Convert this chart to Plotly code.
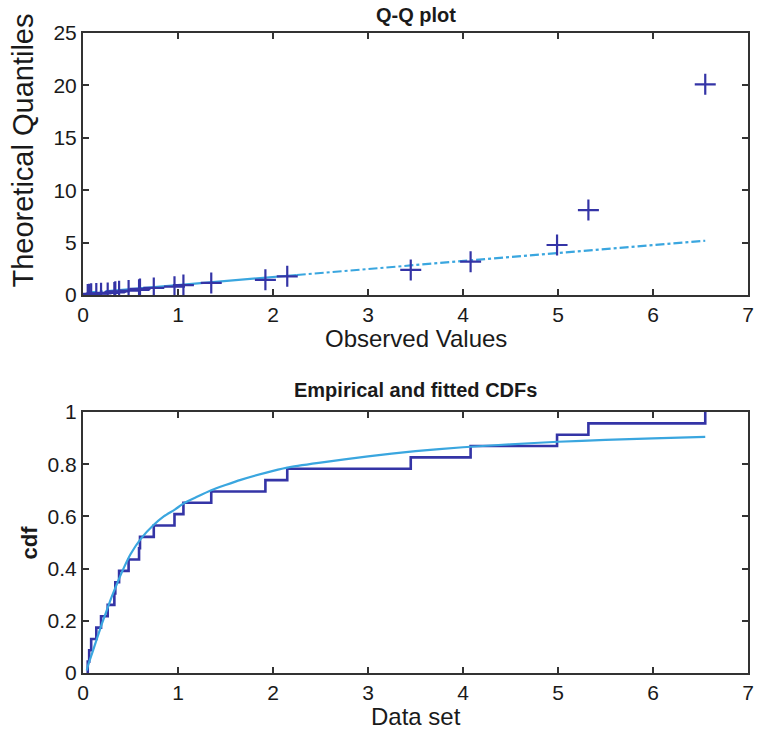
import plotly.graph_objects as go

# ---- data ----
observed = [0.05, 0.065, 0.086, 0.14, 0.19, 0.26, 0.33, 0.34, 0.38, 0.48, 0.59, 0.60,
            0.745, 0.963, 1.057, 1.35, 1.92, 2.15, 3.45, 4.08, 4.99, 5.32, 6.55]
theoretical = [0.04, 0.07, 0.11, 0.14, 0.16, 0.20, 0.24, 0.30, 0.35, 0.42, 0.50, 0.58,
               0.68, 0.80, 0.95, 1.15, 1.45, 1.78, 2.39, 3.18, 4.77, 8.1, 20.1]

# reference line of the Q-Q plot (solid between quartiles, dash-dot extension)
ref_solid_x = [0.26, 2.25]
ref_solid_y = [0.38, 1.91]
ref_ext_lo_x = [0.05, 0.26]
ref_ext_lo_y = [0.22, 0.38]
ref_ext_hi_x = [2.25, 6.55]
ref_ext_hi_y = [1.91, 5.18]

# empirical CDF levels (k/23)
n = len(observed)
ecdf_levels = [k / n for k in range(n + 1)]

# fitted CDF
fit_x = [0.04, 0.05, 0.10, 0.15, 0.20, 0.25, 0.30, 0.35, 0.42, 0.50, 0.61, 0.74, 0.85,
         0.97, 1.06, 1.2, 1.35, 1.5, 1.66, 1.92, 2.15, 2.5, 3.0, 3.5, 4.0, 4.5, 5.0,
         5.5, 6.0, 6.55]
fit_y = [0.01, 0.025, 0.08, 0.135, 0.19, 0.24, 0.29, 0.335, 0.395, 0.455, 0.515, 0.566,
         0.60, 0.627, 0.65, 0.675, 0.70, 0.72, 0.74, 0.767, 0.787, 0.806, 0.83, 0.85,
         0.865, 0.876, 0.886, 0.893, 0.899, 0.905]

x_ticks = [0, 1, 2, 3, 4, 5, 6, 7]
qq_y_ticks = [0, 5, 10, 15, 20, 25]
cdf_y_ticks = [0, 0.2, 0.4, 0.6, 0.8, 1]
cdf_y_ticklabels = ["0", "0.2", "0.4", "0.6", "0.8", "1"]

MARK = "#3434a6"
LINE = "#3aa6df"
FONT = "Liberation Sans, Arial, sans-serif"
TXT = "#1a1a1a"

fig = go.Figure()

# ---- Q-Q plot ----
fig.add_trace(go.Scatter(x=ref_ext_lo_x, y=ref_ext_lo_y, mode="lines",
                         line=dict(color=LINE, width=2.2, dash="dashdot"),
                         xaxis="x", yaxis="y", showlegend=False))
fig.add_trace(go.Scatter(x=ref_ext_hi_x, y=ref_ext_hi_y, mode="lines",
                         line=dict(color=LINE, width=2.2, dash="dashdot"),
                         xaxis="x", yaxis="y", showlegend=False))
fig.add_trace(go.Scatter(x=ref_solid_x, y=ref_solid_y, mode="lines",
                         line=dict(color=LINE, width=2.2),
                         xaxis="x", yaxis="y", showlegend=False))
fig.add_trace(go.Scatter(x=observed, y=theoretical, mode="markers",
                         marker=dict(symbol="cross-thin", size=15,
                                     line=dict(color=MARK, width=2.2)),
                         xaxis="x", yaxis="y", showlegend=False))

# ---- CDF plot ----
ecdf_x = [observed[0]] + observed
ecdf_y = ecdf_levels
fig.add_trace(go.Scatter(x=ecdf_x, y=ecdf_y, mode="lines",
                         line=dict(color=MARK, width=2.6, shape="hv"),
                         xaxis="x2", yaxis="y2", showlegend=False))
fig.add_trace(go.Scatter(x=fit_x, y=fit_y, mode="lines",
                         line=dict(color=LINE, width=2.2, shape="spline", smoothing=0.6),
                         xaxis="x2", yaxis="y2", showlegend=False))

axis_common = dict(showline=True, linecolor="#333333", linewidth=2, mirror="ticks",
                   ticks="inside", ticklen=6, tickwidth=1.5, tickcolor="#333333",
                   showgrid=False, zeroline=False,
                   tickfont=dict(family=FONT, size=21, color=TXT))

fig.update_layout(
    width=764, height=731,
    margin=dict(l=83, r=10, t=33, b=58),
    paper_bgcolor="white", plot_bgcolor="white",
    xaxis=dict(domain=[0, 1], range=[0, 7], tickvals=x_ticks, anchor="y", **axis_common),
    yaxis=dict(domain=[0.5906, 1.0], range=[0, 25], tickvals=qq_y_ticks, anchor="x", **axis_common),
    xaxis2=dict(domain=[0, 1], range=[0, 7], tickvals=x_ticks, anchor="y2", **axis_common),
    yaxis2=dict(domain=[0, 0.4078], range=[0, 1], tickvals=cdf_y_ticks,
                ticktext=cdf_y_ticklabels, anchor="x2", **axis_common),
    annotations=[
        dict(text="<b>Q-Q plot</b>", x=0.5, y=(673 - 15) / 640, xref="paper", yref="paper",
             showarrow=False, font=dict(family=FONT, size=20, color=TXT),
             xanchor="center", yanchor="middle"),
        dict(text="Observed Values", x=0.5, y=(673 - 338) / 640, xref="paper", yref="paper",
             showarrow=False, font=dict(family=FONT, size=24, color=TXT),
             xanchor="center", yanchor="middle"),
        dict(text="Theoretical Quantiles", x=-61 / 671, y=(673 - 151) / 640,
             xref="paper", yref="paper", textangle=-90,
             showarrow=False, font=dict(family=FONT, size=29, color=TXT),
             xanchor="center", yanchor="middle"),
        dict(text="<b>Empirical and fitted CDFs</b>", x=0.5, y=(673 - 390) / 640,
             xref="paper", yref="paper",
             showarrow=False, font=dict(family=FONT, size=20, color=TXT),
             xanchor="center", yanchor="middle"),
        dict(text="<b>cdf</b>", x=-54 / 671, y=(673 - 542) / 640,
             xref="paper", yref="paper", textangle=-90,
             showarrow=False, font=dict(family=FONT, size=22, color=TXT),
             xanchor="center", yanchor="middle"),
        dict(text="Data set", x=0.5, y=(673 - 716) / 640, xref="paper", yref="paper",
             showarrow=False, font=dict(family=FONT, size=24, color=TXT),
             xanchor="center", yanchor="middle"),
    ],
)

fig.write_html("out.html")
